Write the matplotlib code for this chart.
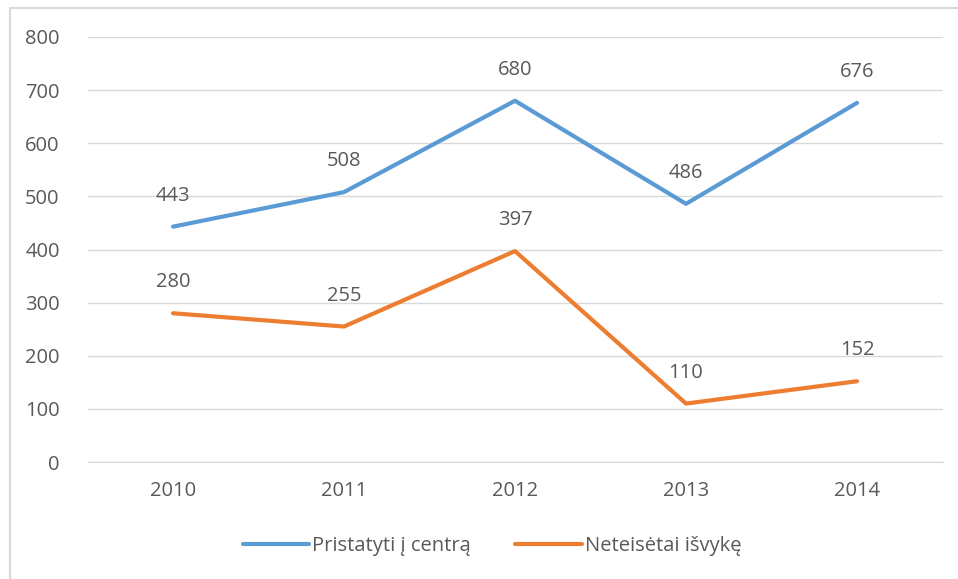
import matplotlib.pyplot as plt
from matplotlib.patches import Rectangle

years = ["2010", "2011", "2012", "2013", "2014"]
pristatyti = [443, 508, 680, 486, 676]
neteisetai = [280, 255, 397, 110, 152]
series_names = ["Pristatyti į centrą", "Neteisėtai išvykę"]

plt.rcParams['font.family'] = ['Open Sans', 'DejaVu Sans']
txt = "#595959"
grid = "#D9D9D9"

fig = plt.figure(figsize=(9.58, 5.79), dpi=100)
fig.patches.append(Rectangle((10/958, -0.1), 1.2, (579-8)/579 + 0.1,
                             transform=fig.transFigure, fill=False,
                             edgecolor="#D9D9D9", linewidth=1.5))
ax = fig.add_axes([87.5/958, 117/579, 855/958, 425/579])

x = range(len(years))
ax.plot(x, pristatyti, color="#5B9BD5", lw=3, solid_capstyle="round", label=series_names[0])
ax.plot(x, neteisetai, color="#ED7D31", lw=3, solid_capstyle="round", label=series_names[1])

for xs, ys in [(x, pristatyti), (x, neteisetai)]:
    for xi, yi in zip(xs, ys):
        ax.annotate(str(yi), (xi, yi), xytext=(0, 15), textcoords="offset points",
                    ha="center", va="bottom", color=txt, fontsize=14.5)

ax.set_xlim(-0.5, 4.5)
ax.set_ylim(0, 800)
ax.set_yticks(range(0, 801, 100))
ax.set_xticks(list(x))
ax.set_xticklabels(years)
ax.tick_params(length=0, colors=txt, labelsize=14.5)
ax.tick_params(axis="y", pad=20)
ax.tick_params(axis="x", pad=14)
ax.grid(axis="y", color=grid, lw=1)
ax.set_axisbelow(True)
for s in ["top", "right", "left"]:
    ax.spines[s].set_visible(False)
ax.spines["bottom"].set_color(grid)

fig.legend(loc="center", bbox_to_anchor=(492/958, 1 - 546/579), ncol=2, frameon=False,
           fontsize=14.5, labelcolor=txt, handlelength=3.3, handletextpad=0.15,
           columnspacing=2.2)

fig.savefig("out.png", dpi=100)
